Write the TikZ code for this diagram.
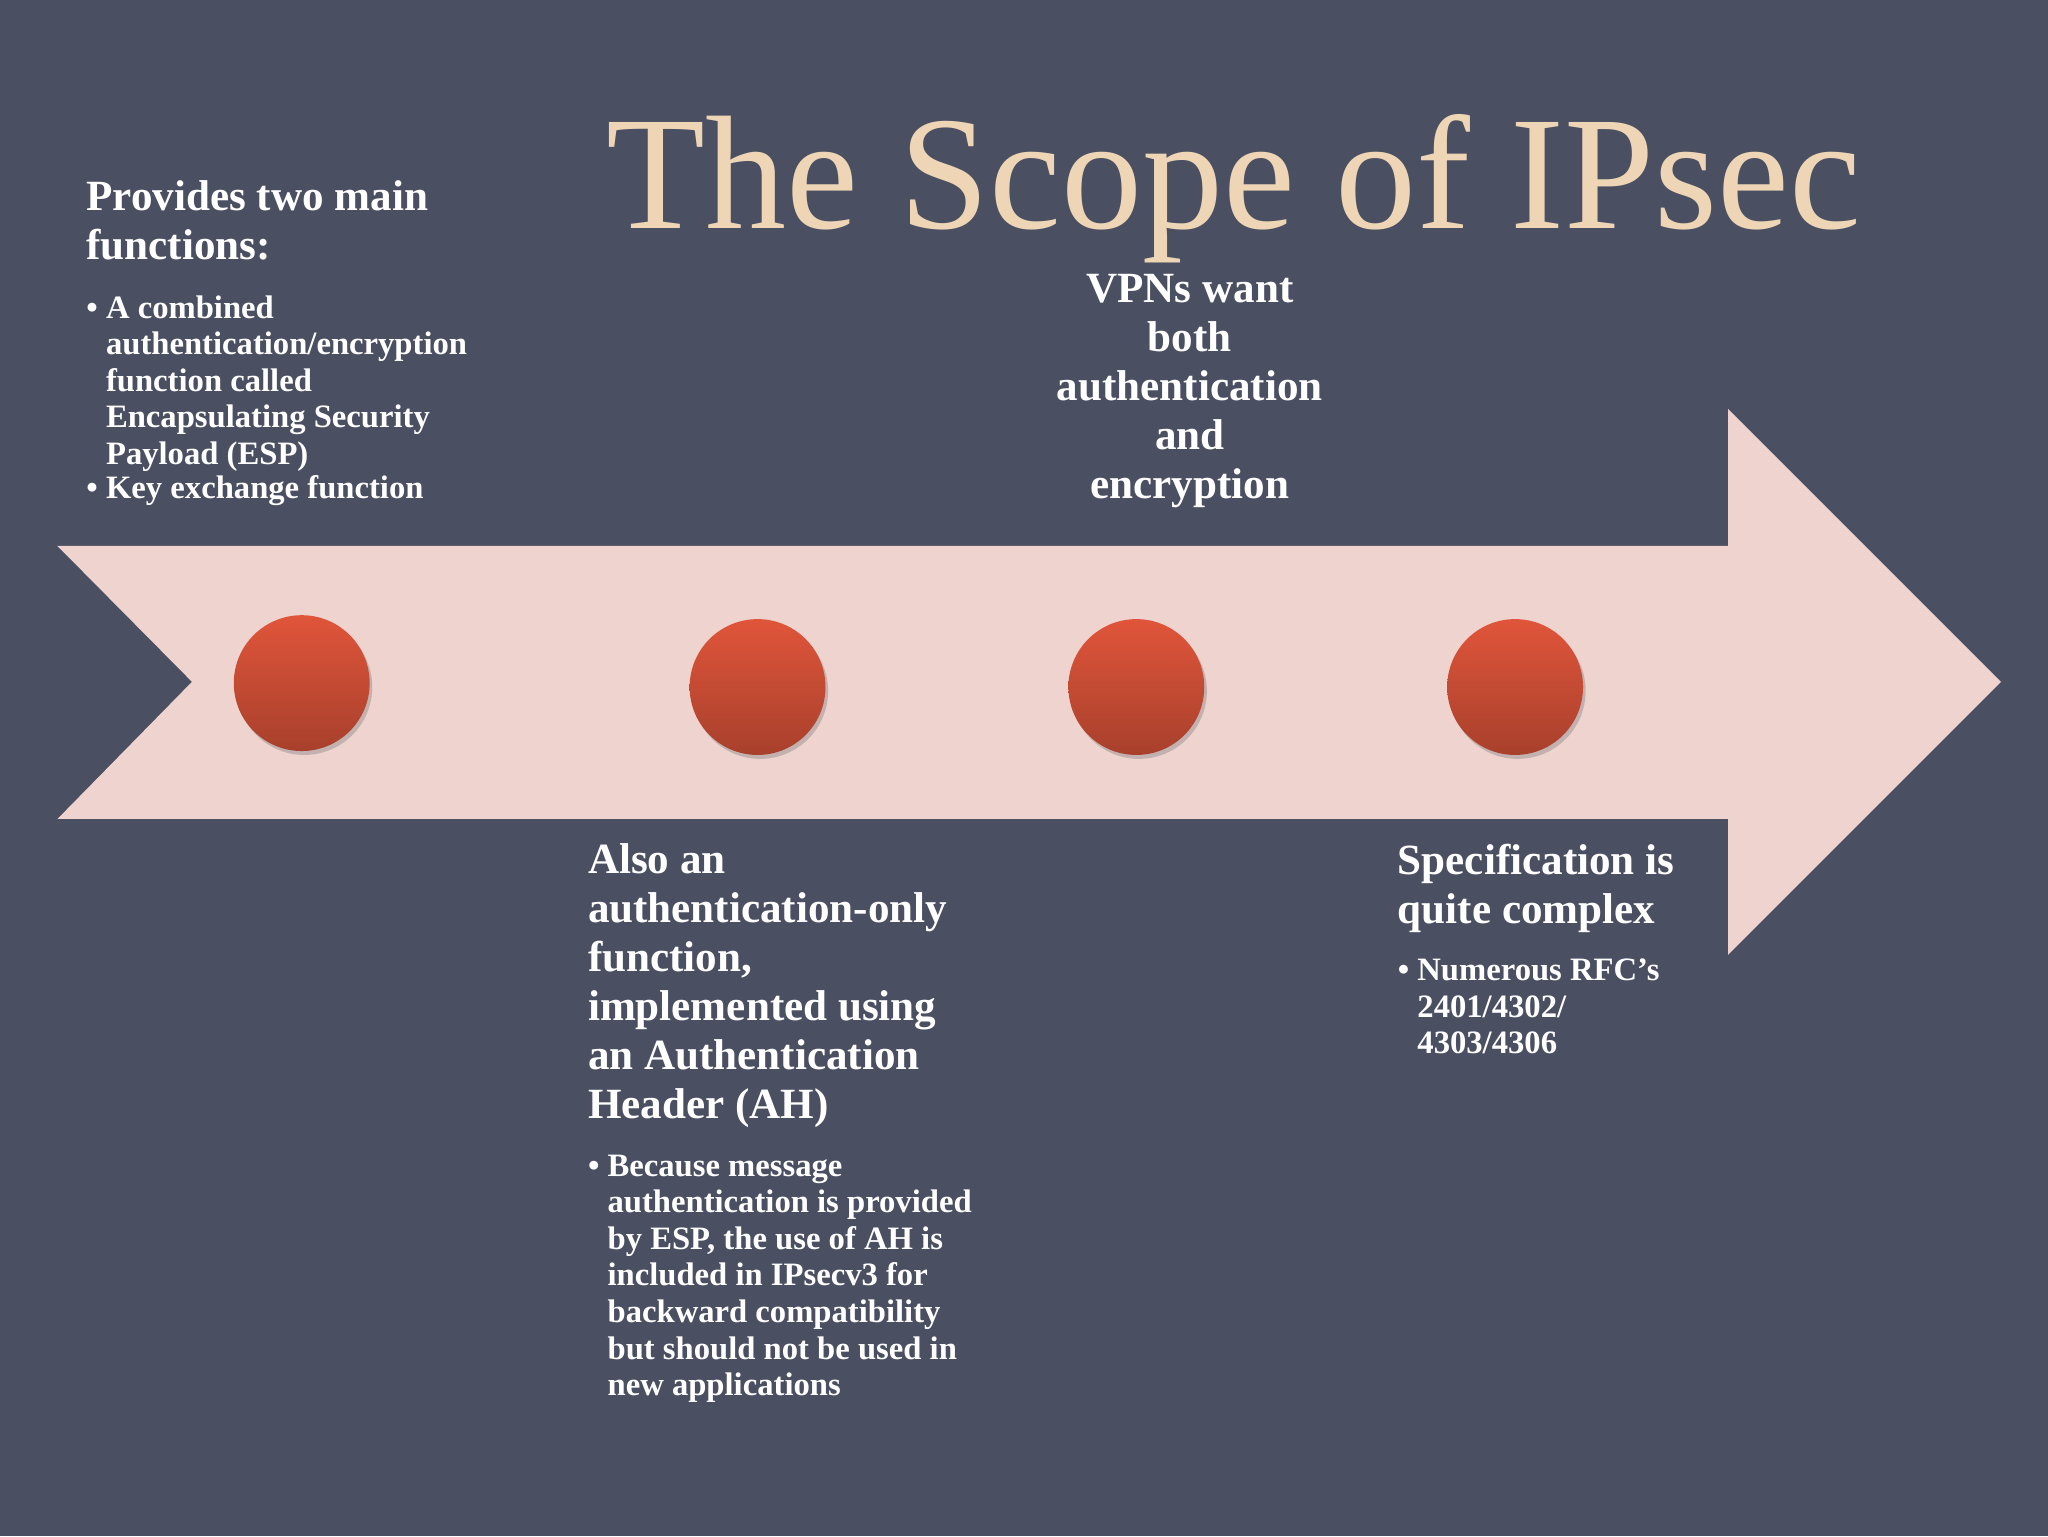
\documentclass[tikz,border=0pt]{standalone}
\usepackage{fontspec}
\setmainfont{Liberation Serif}
\usetikzlibrary{shadows}
\definecolor{bg}{HTML}{4A4F62}
\definecolor{arrowc}{HTML}{EED3CF}
\definecolor{titlec}{HTML}{EDD5B5}
\definecolor{dottop}{HTML}{E0553A}
\definecolor{dotbot}{HTML}{A8402C}
\tikzset{
 head/.style={text=white,font=\fontsize{33}{37.5}\selectfont\bfseries,align=left,anchor=north west,inner sep=0pt},
 body/.style={text=white,font=\fontsize{25}{28}\selectfont\bfseries,align=left,anchor=north west,inner sep=0pt},
 dot/.style={circle,minimum size=104pt,inner sep=0pt,top color=dottop,bottom color=dotbot,draw=none,drop shadow={opacity=0.4,shadow xshift=2pt,shadow yshift=-3pt}}
}
\begin{document}
\begin{tikzpicture}[x=1pt,y=-1pt]
\fill[bg] (0,0) rectangle (1568,1176);
\useasboundingbox (0,0) rectangle (1568,1176);
\fill[arrowc] (44,418) -- (1323,418) -- (1323,313) -- (1532,522) -- (1323,731) -- (1323,627) -- (44,627) -- (147,522) -- cycle;
\node[dot] (d1) at (231,523) {};
\node[dot] (d2) at (580,526) {};
\node[dot] (d3) at (870,526) {};
\node[dot] (d4) at (1160,526) {};
\node[text=titlec,font=\fontsize{124}{124}\selectfont,anchor=base] (title) at (945,175) {The Scope of IPsec};
\node[head] (h1) at (66,138) {Provides two main\\functions:};
\node[body] (b1) at (66,226) {\textbullet\ \parbox[t]{330pt}{A combined\\authentication/encryption\\function called\\Encapsulating Security\\Payload (ESP)}\\[2pt]\textbullet\ Key exchange function};
\node[head,align=center,anchor=north] (h3) at (911,210) {VPNs want\\both\\authentication\\and\\encryption};
\node[head] (h2) at (450,646) {Also an\\authentication-only\\function,\\implemented using\\an Authentication\\Header (AH)};
\node[body] (b2) at (450,884) {\textbullet\ \parbox[t]{330pt}{Because message\\authentication is provided\\by ESP, the use of AH is\\included in IPsecv3 for\\backward compatibility\\but should not be used in\\new applications}};
\node[head] (h4) at (1070,646) {Specification is\\quite complex};
\node[body] (b4) at (1070,734) {\textbullet\ \parbox[t]{220pt}{Numerous RFC’s\\2401/4302/\\4303/4306}};
\end{tikzpicture}
\end{document}
